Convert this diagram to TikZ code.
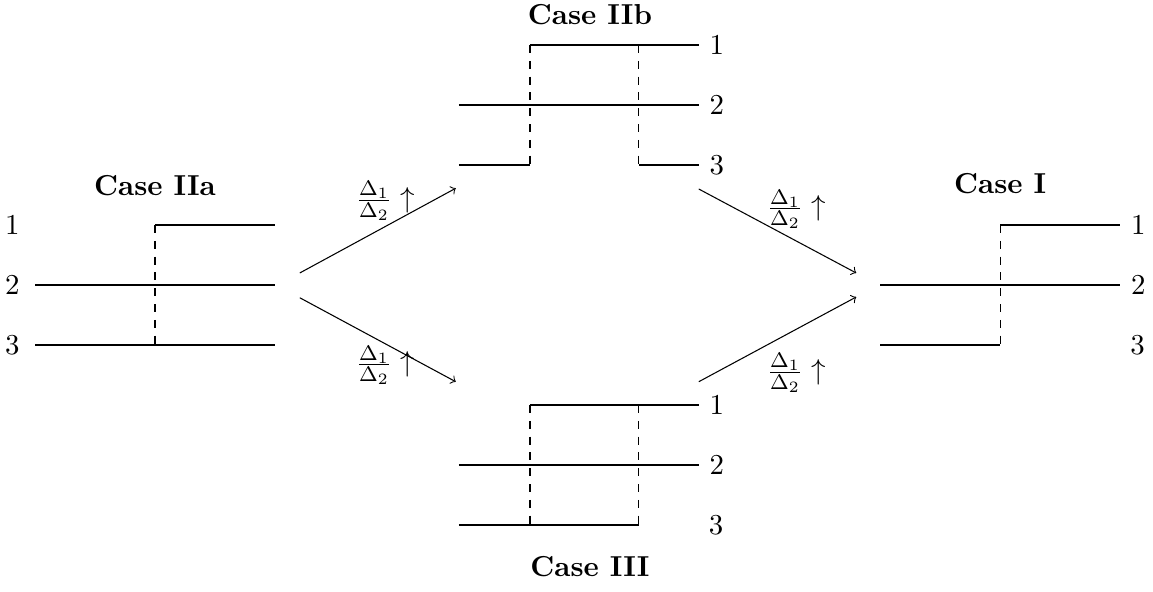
\documentclass[tikz,border=0pt,11pt]{standalone}
\begin{document}
\begin{tikzpicture}[level/.style={line width = 0.9}, jump/.style={dashed}, trans/.style={->}, title/.style={font=\bfseries}]
\useasboundingbox (-0.467,-4.093) rectangle (14.907,3.8);

% Case IIa
\node[title] (tIIa) at (1.6,1.33) {Case IIa};
\draw[level] (1.6,0.8) -- (3.2,0.8);
\draw[level] (0,0) -- (3.2,0);
\draw[level] (0,-0.8) -- (3.2,-0.8);
\draw[jump] (1.6,0.8) -- (1.6,-0.8);
\node[left=2pt] (a1) at (0,0.8) {1};
\node[left=2pt] (a2) at (0,0) {2};
\node[left=2pt] (a3) at (0,-0.8) {3};

% Case IIb
\node[title] (tIIb) at (7.4,3.61) {Case IIb};
\draw[level] (6.6,3.2) -- (8.85,3.2) node[right] (b1) {1};
\draw[level] (5.65,2.4) -- (8.85,2.4) node[right] (b2) {2};
\draw[level] (5.65,1.6) -- (6.6,1.6);
\draw[level] (8.05,1.6) -- (8.85,1.6) node[right] (b3) {3};
\draw[jump] (6.6,3.2) -- (6.6,1.6);
\draw[jump] (8.05,3.2) -- (8.05,1.6);

% Case III
\node[title] (tIII) at (7.4,-3.75) {Case III};
\draw[level] (6.6,-1.6) -- (8.85,-1.6) node[right] (c1) {1};
\draw[level] (5.65,-2.4) -- (8.85,-2.4) node[right] (c2) {2};
\draw[level] (5.65,-3.2) -- (8.05,-3.2);
\node[right] (c3) at (8.85,-3.2) {3};
\draw[jump] (6.6,-1.6) -- (6.6,-3.2);
\draw[jump] (8.05,-1.6) -- (8.05,-3.2);

% Case I
\node[title] (tI) at (12.87,1.35) {Case I};
\draw[level] (12.87,0.8) -- (14.47,0.8) node[right] (d1) {1};
\draw[level] (11.27,0) -- (14.47,0) node[right] (d2) {2};
\draw[level] (11.27,-0.8) -- (12.87,-0.8);
\node[right] (d3) at (14.47,-0.8) {3};
\draw[jump] (12.87,0.8) -- (12.87,-0.8);

% transitions
\coordinate (IIa-up) at (3.53,0.16);
\coordinate (IIa-dn) at (3.53,-0.17);
\coordinate (IIb-in) at (5.61,1.29);
\coordinate (IIb-out) at (8.85,1.28);
\coordinate (III-in) at (5.61,-1.29);
\coordinate (III-out) at (8.85,-1.29);
\coordinate (I-up) at (10.95,0.16);
\coordinate (I-dn) at (10.95,-0.16);
\draw[trans] (IIa-up) -- (IIb-in);
\draw[trans] (IIa-dn) -- (III-in);
\draw[trans] (IIb-out) -- (I-up);
\draw[trans] (III-out) -- (I-dn);
\node (r1) at (4.67,1.12) {$\frac{\Delta_1}{\Delta_2}\uparrow$};
\node (r2) at (4.67,-1.07) {$\frac{\Delta_1}{\Delta_2}\uparrow$};
\node (r3) at (10.15,1.01) {$\frac{\Delta_1}{\Delta_2}\uparrow$};
\node (r4) at (10.15,-1.17) {$\frac{\Delta_1}{\Delta_2}\uparrow$};

\end{tikzpicture}
\end{document}
